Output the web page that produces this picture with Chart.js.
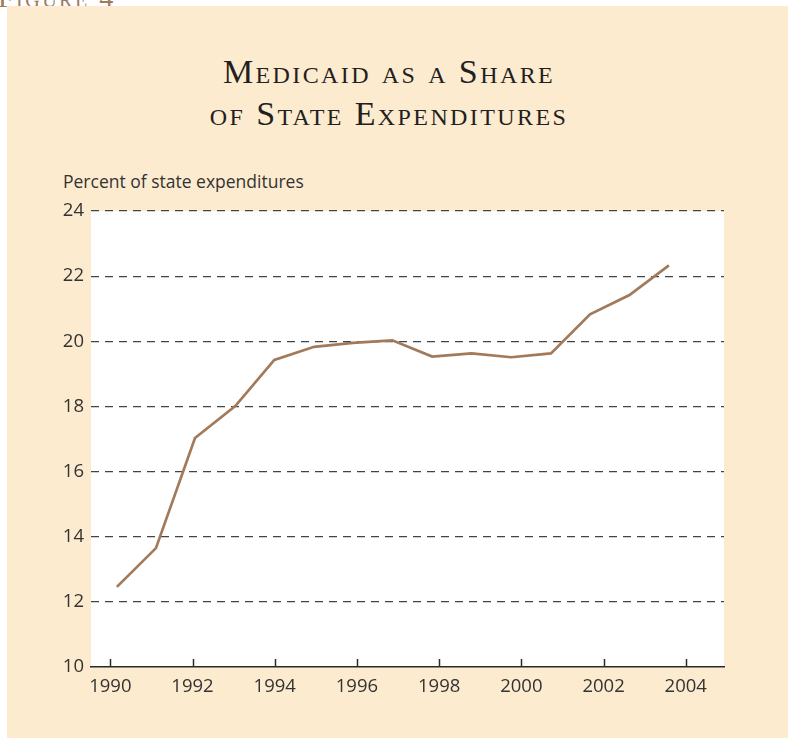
<!DOCTYPE html>
<html>
<head>
<meta charset="utf-8">
<script src="https://cdn.jsdelivr.net/npm/chart.js@4/dist/chart.umd.min.js"></script>
<style>
  html, body { margin: 0; padding: 0; background: #fff; }
  body { width: 788px; height: 738px; position: relative; overflow: hidden; }
  #fig-label {
    position: absolute; left: -2px; top: -19px;
    font: 28px "Liberation Serif", serif; font-variant: small-caps;
    letter-spacing: 2.5px; color: #9b7b62; line-height: 34px; white-space: nowrap;
  }
  #panel { position: absolute; left: 7px; top: 6px; width: 781px; height: 732px; background: #fdebd0; }
  #title {
    position: absolute; left: 0; top: 51px; width: 778px; text-align: center;
    font: 34px "Liberation Serif", serif; font-variant: small-caps;
    letter-spacing: 2.4px; color: #231f20; line-height: 42px;
  }
  #ytitle {
    position: absolute; left: 63px; top: 171px;
    font: 17.5px "Open Sans", sans-serif; color: #333; line-height: 20px; white-space: nowrap;
  }
  #chart { position: absolute; left: 0; top: 0; }
</style>
</head>
<body>
<div id="fig-label">Figure 4</div>
<div id="panel"></div>
<div id="title">Medicaid as a Share<br>of State Expenditures</div>
<div id="ytitle">Percent of state expenditures</div>
<canvas id="chart" width="788" height="738"></canvas>
<script>
// ── Data ──────────────────────────────────────────────────────────────────────

const years = [1990.16, 1991.11, 1992.06, 1993.04, 1993.99, 1994.96, 1995.90, 1996.86,
               1997.83, 1998.79, 1999.75, 2000.72, 2001.67, 2002.63, 2003.59];
const medicaidShare = [12.46, 13.65, 17.03, 18.01, 19.43, 19.83, 19.95, 20.03,
                       19.53, 19.63, 19.51, 19.63, 20.83, 21.42, 22.33];
const xTicks = [1990, 1992, 1994, 1996, 1998, 2000, 2002, 2004];
const yTicks = [10, 12, 14, 16, 18, 20, 22, 24];

// ── Style ─────────────────────────────────────────────────────────────────────

const LINE_COLOR = '#a27a5a';
const AXIS_COLOR = '#2b2b2b';
const GRID_COLOR = '#444444';
const TICK_FONT  = { family: '"Open Sans", sans-serif', size: 18.5 };

// white plot area behind everything
const plotBackground = {
  id: 'plotBackground',
  beforeDraw(chart) {
    const { ctx, chartArea: a } = chart;
    ctx.save();
    ctx.fillStyle = '#ffffff';
    ctx.fillRect(a.left, a.top, a.right - a.left, a.bottom - a.top);
    ctx.restore();
  }
};

// small tick marks pointing up into the plot from the x axis
const innerTicks = {
  id: 'innerTicks',
  afterDraw(chart) {
    const { ctx, chartArea: a, scales: { x } } = chart;
    ctx.save();
    ctx.strokeStyle = AXIS_COLOR;
    ctx.lineWidth = 1.5;
    for (const v of xTicks) {
      const px = Math.round(x.getPixelForValue(v)) + 0.5;
      ctx.beginPath();
      ctx.moveTo(px, a.bottom);
      ctx.lineTo(px, a.bottom - 8);
      ctx.stroke();
    }
    ctx.restore();
  }
};

new Chart(document.getElementById('chart'), {
  type: 'line',
  data: {
    datasets: [{
      data: years.map((yr, i) => ({ x: yr, y: medicaidShare[i] })),
      borderColor: LINE_COLOR,
      borderWidth: 2.7,
      pointRadius: 0,
      tension: 0,
      fill: false,
    }]
  },
  options: {
    responsive: false,
    animation: false,
    layout: { padding: { left: 0, top: 211, right: 64, bottom: 0 } },
    plugins: { legend: { display: false }, tooltip: { enabled: false } },
    scales: {
      x: {
        type: 'linear',
        min: 1989.53,
        max: 2004.93,
        afterBuildTicks: s => { s.ticks = xTicks.map(v => ({ value: v })); },
        afterFit: s => { s.height = 71; },
        grid: { display: false, drawTicks: false },
        border: { display: true, color: AXIS_COLOR, width: 1.5 },
        ticks: { color: '#333', font: TICK_FONT, padding: 9, callback: v => String(v), maxRotation: 0 }
      },
      y: {
        min: 10,
        max: 24,
        afterBuildTicks: s => { s.ticks = yTicks.map(v => ({ value: v })); },
        afterFit: s => { s.width = 91; },
        grid: {
          drawTicks: false,
          color: c => (c.tick && c.tick.value === 10) ? 'rgba(0,0,0,0)' : GRID_COLOR,
          lineWidth: 1.2,
        },
        border: { display: false, dash: [8, 6] },
        ticks: { color: '#333', font: TICK_FONT, padding: 7 }
      }
    }
  },
  plugins: [plotBackground, innerTicks]
});
</script>
</body>
</html>
